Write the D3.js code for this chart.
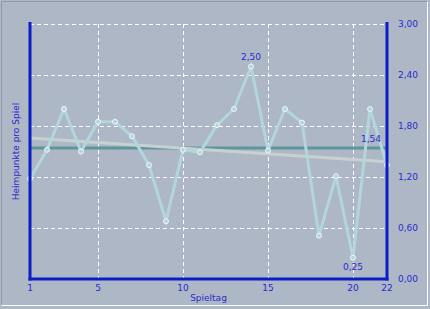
<!DOCTYPE html>
<html>
<head>
<meta charset="utf-8">
<script src="https://cdn.jsdelivr.net/npm/d3@7"></script>
<style>
  html, body { margin: 0; padding: 0; background: #adb7c6; }
  svg { display: block; }
  text { font-family: "DejaVu Sans", sans-serif; }
</style>
</head>
<body>
<svg id="chart"></svg>
<script>
'use strict';

const WIDTH = 430;
const HEIGHT = 309;

// Heimpunkte pro Spiel, je Spieltag
const spieltage = d3.range(1, 23);
const heimpunkte = [1.18, 1.52, 2.00, 1.50, 1.85, 1.85, 1.68, 1.34, 0.68, 1.52, 1.49,
                    1.81, 2.00, 2.50, 1.51, 2.00, 1.84, 0.51, 1.21, 0.25, 2.00, 1.34];
const schnitt = 1.54;
const trend = [1.66, 1.38]; // Spieltag 1 -> 22
const xTicks = [1, 5, 10, 15, 20, 22];
const xGrid = [5, 10, 15, 20];
const yTicks = [0, 0.6, 1.2, 1.8, 2.4, 3.0];
const labelled = [{i: 13, text: '2,50', dy: -7}, {i: 19, text: '0,25', dy: 12}];

const COLOR = {
    BG: '#adb7c6',
    AXIS: '#0a1ec8',
    TEXT: '#2a2ad0',
    LINE: '#b3d6dc',
    AVG: '#5c979e',
    TREND: '#c5d2d0',
    GRID: '#ffffff'
};

const m = {left: 30, right: 43, top: 24, bottom: 30};
const svg = d3.select('#chart').attr('width', WIDTH).attr('height', HEIGHT);

const x = d3.scaleLinear().domain([1, 22]).range([m.left, WIDTH - m.right]);
const y = d3.scaleLinear().domain([0, 3]).range([HEIGHT - m.bottom, m.top]);

// panel frame
svg.append('rect').attr('width', WIDTH).attr('height', HEIGHT).attr('fill', COLOR.BG);
svg.append('path')
    .attr('d', 'M1.5,304.5 V1.5 H427.5')
    .attr('fill', 'none').attr('stroke', '#8f98a6');
svg.append('path')
    .attr('d', 'M1.5,305.5 H427.5 V1.5')
    .attr('fill', 'none').attr('stroke', '#ffffff');

// grid
const grid = svg.append('g').attr('stroke', COLOR.GRID).attr('stroke-dasharray', '4,3');
grid.selectAll('line.h')
    .data(yTicks.slice(1))
    .enter().append('line')
    .attr('x1', x(1)).attr('x2', x(22))
    .attr('y1', d => Math.round(y(d)) + 0.5).attr('y2', d => Math.round(y(d)) + 0.5);
grid.selectAll('line.v')
    .data(xGrid)
    .enter().append('line')
    .attr('y1', y(3)).attr('y2', y(0))
    .attr('x1', d => Math.round(x(d)) + 0.5).attr('x2', d => Math.round(x(d)) + 0.5);

// average and trend
svg.append('line')
    .attr('x1', x(1)).attr('x2', x(22))
    .attr('y1', y(schnitt)).attr('y2', y(schnitt))
    .attr('stroke', COLOR.AVG).attr('stroke-width', 3);
svg.append('line')
    .attr('x1', x(1)).attr('x2', x(22))
    .attr('y1', y(trend[0])).attr('y2', y(trend[1]))
    .attr('stroke', COLOR.TREND).attr('stroke-width', 3);

// series
const line = d3.line().x((d, i) => x(spieltage[i])).y(d => y(d));
svg.append('path')
    .datum(heimpunkte)
    .attr('d', line)
    .attr('fill', 'none')
    .attr('stroke', COLOR.LINE)
    .attr('stroke-width', 3);
svg.selectAll('circle')
    .data(heimpunkte)
    .enter().append('circle')
    .attr('cx', (d, i) => x(spieltage[i]))
    .attr('cy', d => y(d))
    .attr('r', 2.5)
    .attr('fill', COLOR.LINE)
    .attr('stroke', '#ffffff')
    .attr('stroke-width', 0.8);

// axes
const axes = svg.append('g').attr('stroke', COLOR.AXIS).attr('stroke-width', 3);
axes.append('line').attr('x1', x(1)).attr('x2', x(1)).attr('y1', y(3) - 2).attr('y2', y(0) + 1.5);
axes.append('line').attr('x1', x(22)).attr('x2', x(22)).attr('y1', y(3) - 2).attr('y2', y(0) + 1.5);
axes.append('line').attr('x1', x(1) - 1.5).attr('x2', x(22) + 1.5).attr('y1', y(0)).attr('y2', y(0));

const txt = svg.append('g')
    .attr('fill', COLOR.TEXT)
    .attr('font-size', 9);

txt.selectAll('text.x')
    .data(xTicks)
    .enter().append('text')
    .attr('x', d => x(d))
    .attr('y', y(0) + 12)
    .attr('text-anchor', 'middle')
    .text(d => d);

txt.selectAll('text.y')
    .data(yTicks)
    .enter().append('text')
    .attr('x', 398)
    .attr('y', d => y(d) + 3)
    .text(d => d3.format('.2f')(d).replace('.', ','));

txt.selectAll('text.lab')
    .data(labelled)
    .enter().append('text')
    .attr('x', d => x(spieltage[d.i]))
    .attr('y', d => y(heimpunkte[d.i]) + d.dy)
    .attr('text-anchor', 'middle')
    .text(d => d.text);

txt.append('text')
    .attr('x', x(22) - 6)
    .attr('y', y(schnitt) - 6)
    .attr('text-anchor', 'end')
    .text(d3.format('.2f')(schnitt).replace('.', ','));

txt.append('text')
    .attr('x', x(11.5))
    .attr('y', 301)
    .attr('text-anchor', 'middle')
    .text('Spieltag');

txt.append('text')
    .attr('transform', 'translate(19,' + y(1.5) + ') rotate(-90)')
    .attr('text-anchor', 'middle')
    .text('Heimpunkte pro Spiel');
</script>
</body>
</html>
